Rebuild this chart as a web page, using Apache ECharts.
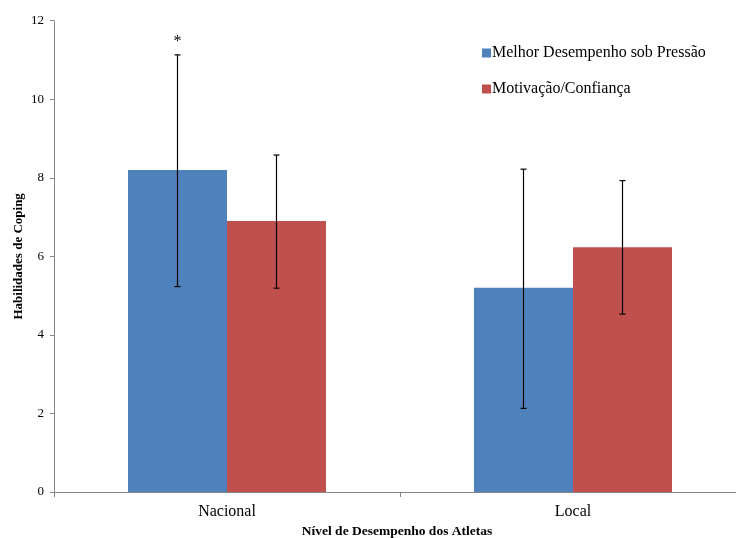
<!DOCTYPE html>
<html><head><meta charset="utf-8">
<script src="https://cdn.jsdelivr.net/npm/echarts@6/dist/echarts.min.js"></script>
<style>html,body{margin:0;padding:0;background:#fff}#c{width:736px;height:538px}</style>
</head><body><div id="c"></div>
<script>
var categories = ['Nacional', 'Local'];
var seriesNames = ['Melhor Desempenho sob Pressão', 'Motivação/Confiança'];
var pressaoValues = [8.2, 5.2];
var motivacaoValues = [6.9, 6.23];
var pressaoErrLow = [5.23, 2.13];
var pressaoErrHigh = [11.13, 8.22];
var motivacaoErrLow = [5.19, 4.53];
var motivacaoErrHigh = [8.58, 7.93];
var pressaoMarks = ['*', ''];
var yTicks = [0, 2, 4, 6, 8, 10, 12];

var FONT = '"Liberation Serif", "Times New Roman", serif';
var chart = echarts.init(document.getElementById('c'));

function errData(low, high) {
  return categories.map(function (c, i) { return [i, low[i], high[i]]; });
}
function errRender(side) {
  return function (params, api) {
    var i = api.value(0);
    var band = api.size([1, 0])[0];
    var bw = band * 99 / 346;
    var x = api.coord([i, 0])[0] + side * bw / 2;
    var top = api.coord([i, api.value(2)])[1];
    var bot = api.coord([i, api.value(1)])[1];
    var st = { stroke: '#000', lineWidth: 1.2 };
    var children = [
      { type: 'line', shape: { x1: x, y1: top, x2: x, y2: bot }, style: st },
      { type: 'line', shape: { x1: x - 3, y1: top, x2: x + 3, y2: top }, style: st },
      { type: 'line', shape: { x1: x - 3, y1: bot, x2: x + 3, y2: bot }, style: st }
    ];
    var mark = side < 0 ? pressaoMarks[params.dataIndex] : '';
    if (mark) {
      children.push({ type: 'text', style: { text: mark, x: x, y: top - 13, align: 'center', verticalAlign: 'middle', font: '16px ' + FONT, fill: '#000' } });
    }
    return { type: 'group', children: children };
  };
}

chart.setOption({
  animation: false,
  backgroundColor: '#fff',
  grid: { left: 54, right: -10, top: 20.7, bottom: 46, containLabel: false, outerBoundsMode: 'none' },
  legend: {
    orient: 'vertical', left: 477, top: 40, itemWidth: 9, itemHeight: 9, itemGap: 20,
    icon: 'rect',
    textStyle: { fontFamily: FONT, fontSize: 16, color: '#000', padding: [0, 0, 0, -4] },
    data: seriesNames
  },
  xAxis: {
    type: 'category', data: categories,
    name: 'Nível de Desempenho dos Atletas', nameLocation: 'middle', nameGap: 33,
    nameTextStyle: { fontFamily: FONT, fontSize: 13.5, fontWeight: 'bold', color: '#000', padding: [0, 0, 0, -6] },
    axisLine: { lineStyle: { color: '#868686', width: 1 } },
    axisTick: { show: true, length: 5, lineStyle: { color: '#868686' } },
    axisLabel: { fontFamily: FONT, fontSize: 16, color: '#000', margin: 12 }
  },
  yAxis: {
    type: 'value', min: 0, max: 12, interval: 2,
    name: 'Habilidades de Coping', nameLocation: 'middle', nameGap: 29, nameRotate: 90,
    nameMoveOverlap: false,
    nameTextStyle: { fontFamily: FONT, fontSize: 13, fontWeight: 'bold', color: '#000' },
    axisLine: { show: true, lineStyle: { color: '#868686', width: 1 } },
    axisTick: { show: true, length: 4, lineStyle: { color: '#868686' } },
    splitLine: { show: false },
    axisLabel: { fontFamily: FONT, fontSize: 13, color: '#000', margin: 10,
      formatter: function (v) { return yTicks.indexOf(v) >= 0 ? String(v) : ''; } }
  },
  series: [
    { name: seriesNames[0], type: 'bar', data: pressaoValues, barWidth: 99, barGap: '0%',
      itemStyle: { color: '#4F81BD' } },
    { name: seriesNames[1], type: 'bar', data: motivacaoValues, barWidth: 99, barGap: '0%',
      itemStyle: { color: '#C0504D' } },
    { type: 'custom', renderItem: errRender(-1), data: errData(pressaoErrLow, pressaoErrHigh),
      encode: { x: 0, y: [1, 2] }, z: 10, silent: true },
    { type: 'custom', renderItem: errRender(1), data: errData(motivacaoErrLow, motivacaoErrHigh),
      encode: { x: 0, y: [1, 2] }, z: 10, silent: true }
  ]
});
</script></body></html>
